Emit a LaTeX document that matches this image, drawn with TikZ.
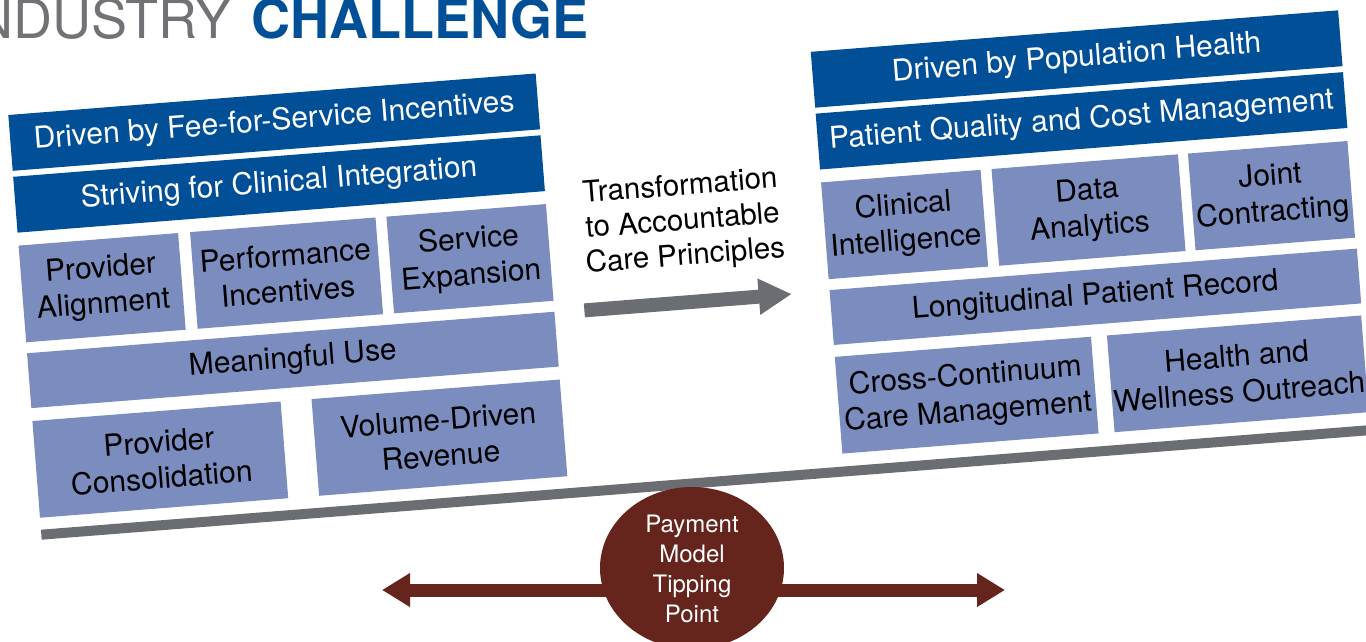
\documentclass[tikz,border=0pt]{standalone}
\usepackage{fontspec}
\setmainfont{TeX Gyre Heros}
\usetikzlibrary{arrows.meta}
\definecolor{hdrblue}{RGB}{0,79,151}
\definecolor{cellblue}{RGB}{123,140,191}
\definecolor{bargray}{RGB}{106,109,114}
\definecolor{tipbrown}{RGB}{101,36,28}
\definecolor{ttlgray}{RGB}{112,114,118}

\begin{document}
\begin{tikzpicture}[x=1pt,y=-1pt,
    panelbox/.style={anchor=north west,inner sep=0pt,outer sep=0pt,align=center,
      transform shape,font=\fontsize{30}{36}\selectfont},
    hdrbox/.style={panelbox,fill=hdrblue,text=white,minimum width=529pt,minimum height=56pt},
    cellbox/.style={panelbox,fill=cellblue,text=black,minimum height=97pt},
    rowbox/.style={cellbox,minimum width=529pt,minimum height=55pt},
    bigarrow/.style={line width=#1,line cap=butt},
  ]
    \clip (0,0) rectangle (1366,641);
    \node[anchor=base east,text=ttlgray,font=\fontsize{54}{58}\selectfont] (ttl) at (235,38) {NDUSTRY};
    \node[anchor=base west,text=hdrblue,font=\fontsize{54}{58}\selectfont\bfseries] (ttlb) at (248,38) {CHALLENGE};

    \begin{scope}[shift={(8.3,115)},rotate=4.5]
    \node[hdrbox] (fee) at (0,0) {Driven by Fee-for-Service Incentives};
    \node[hdrbox] (strive) at (0,62) {Striving for Clinical Integration};
    \node[cellbox,minimum width=160pt] (provalign) at (0,131) {Provider\\Alignment};
    \node[cellbox,minimum width=186pt] (perf) at (172,131) {Performance\\Incentives};
    \node[cellbox,minimum width=160pt] (serv) at (369,131) {Service\\Expansion};
    \node[rowbox] (mu) at (0,239) {Meaningful Use};
    \node[cellbox,minimum width=249pt] (consol) at (0,307) {Provider\\Consolidation};
    \node[cellbox,minimum width=249pt] (volume) at (280,307) {Volume-Driven\\Revenue};

    \node[hdrbox] (pop) at (805,0) {Driven by Population Health};
    \node[hdrbox] (qual) at (805,62) {Patient Quality and Cost Management};
    \node[cellbox,minimum width=160pt] (clin) at (805,131) {Clinical\\Intelligence};
    \node[cellbox,minimum width=187pt] (data) at (976,131) {Data\\Analytics};
    \node[cellbox,minimum width=160pt] (joint) at (1173,131) {Joint\\Contracting};
    \node[rowbox] (lpr) at (805,239) {Longitudinal Patient Record};
    \node[cellbox,minimum width=257pt] (cross) at (805,306) {Cross-Continuum\\Care Management};
    \node[cellbox,minimum width=255pt] (outreach) at (1078,306) {Health and\\Wellness Outreach};

    \fill[bargray] (0,416) rectangle (1420,426);

    \node[align=center,transform shape,font=\fontsize{29.5}{35}\selectfont] (trans) at (664,160)
      {Transformation\\to Accountable\\Care Principles};
    \coordinate (trfrom) at (559,240);
    \coordinate (trto) at (767,240);
    \draw[bargray,bigarrow=14pt,-{Triangle[length=33pt,width=34pt]}] (trfrom) -- (trto);
    \end{scope}

    \coordinate (tipl) at (382,590);
    \coordinate (tipr) at (1005,590);
    \draw[tipbrown,bigarrow=13pt,{Triangle[length=28pt,width=32pt]}-{Triangle[length=28pt,width=32pt]}] (tipl) -- (tipr);
    \fill[tipbrown] (692,568) ellipse [x radius=92pt,y radius=81pt];
    \node[text=white,align=center,font=\fontsize{24}{30}\selectfont] (tip) at (692,569)
      {Payment\\Model\\Tipping\\Point};
\end{tikzpicture}
\end{document}
